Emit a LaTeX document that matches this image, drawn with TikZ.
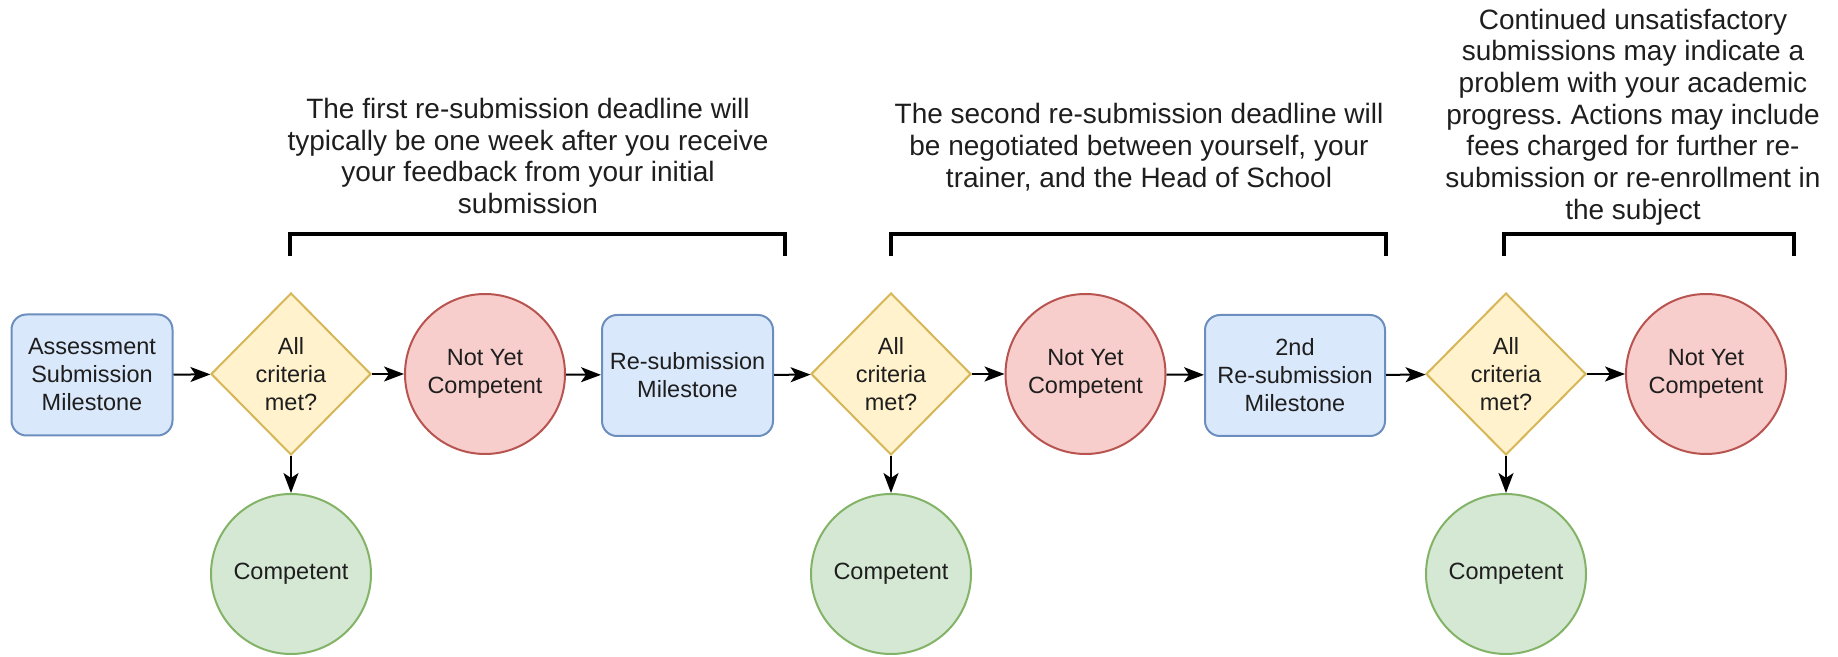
\documentclass[tikz,border=0pt]{standalone}
\usepackage{fontspec}
\setmainfont{Liberation Sans}
\usepackage{xcolor}
\usetikzlibrary{shapes.geometric, arrows.meta}
\frenchspacing

\definecolor{boxfill}{HTML}{DAE8FC}
\definecolor{boxline}{HTML}{6C8EBF}
\definecolor{askfill}{HTML}{FFF2CC}
\definecolor{askline}{HTML}{D6B656}
\definecolor{nycfill}{HTML}{F8CECC}
\definecolor{nycline}{HTML}{B85450}
\definecolor{okfill}{HTML}{D5E8D4}
\definecolor{okline}{HTML}{82B366}
\definecolor{inktext}{HTML}{1E1E1E}

\tikzset{
    boxtext/.style={text=inktext, align=center, font=\fontsize{11.75pt}{14pt}\selectfont},
    milestone/.style={boxtext, draw=boxline, fill=boxfill, line width=1pt,
        rounded corners=7.5pt, minimum height=60.5pt, inner sep=2pt},
    decision/.style={boxtext, diamond, draw=askline, fill=askfill, line width=1pt,
        minimum width=80pt, minimum height=81pt, inner sep=0pt},
    notyet/.style={boxtext, circle, draw=nycline, fill=nycfill, line width=1pt,
        minimum size=80pt, inner sep=0pt},
    competent/.style={boxtext, circle, draw=okline, fill=okfill, line width=1pt,
        minimum size=80pt, inner sep=0pt},
    note/.style={text=inktext, align=center, inner sep=0pt,
        font=\fontsize{14pt}{15.85pt}\selectfont},
    bracket/.style={line width=2pt, black},
    flow/.style={line width=1pt, -{Stealth[length=10pt, width=7.5pt, inset=2.5pt]}}
}

\begin{document}
\begin{tikzpicture}[x=0.5pt, y=-0.5pt]
        \useasboundingbox (0,0) rectangle (1838,657);

        % first attempt
        \node[milestone, minimum width=80.5pt] (submit) at (92,375) {Assessment\\Submission\\Milestone};
        \node[decision] (check1) at (291,374) {All\\criteria\\met?};
        \node[notyet] (nyc1) at (485,374) {Not Yet\\Competent};
        \node[competent] (pass1) at (291,574) {Competent};

        % first re-submission
        \node[milestone, minimum width=85.5pt] (resub1) at (687.5,375.5) {Re-submission\\Milestone};
        \node[decision] (check2) at (891,374) {All\\criteria\\met?};
        \node[notyet] (nyc2) at (1085.5,374) {Not Yet\\Competent};
        \node[competent] (pass2) at (891,574) {Competent};

        % second re-submission
        \node[milestone, minimum width=90pt] (resub2) at (1295,375.5) {2nd\\Re-submission\\Milestone};
        \node[decision] (check3) at (1506,374) {All\\criteria\\met?};
        \node[notyet] (nyc3) at (1706,374) {Not Yet\\Competent};
        \node[competent] (pass3) at (1506,574) {Competent};

        \draw[flow] (submit) -- (check1);
        \draw[flow] (check1) -- (nyc1);
        \draw[flow] (nyc1) -- (resub1);
        \draw[flow] (resub1) -- (check2);
        \draw[flow] (check2) -- (nyc2);
        \draw[flow] (nyc2) -- (resub2);
        \draw[flow] (resub2) -- (check3);
        \draw[flow] (check3) -- (nyc3);
        \draw[flow] (check1) -- (pass1);
        \draw[flow] (check2) -- (pass2);
        \draw[flow] (check3) -- (pass3);

        % deadlines
        \draw[bracket] (290,256) |- (785,234) -- (785,256);
        \draw[bracket] (891,256) |- (1386,234) -- (1386,256);
        \draw[bracket] (1504,256) |- (1794,234) -- (1794,256);

        \node[note] (note1) at (528,156) {The first re-submission deadline will\\typically be one week after you receive\\your feedback from your initial\\submission};
        \node[note] (note2) at (1139,147) {The second re-submission deadline will\\be negotiated between yourself, your\\trainer, and the Head of School};
        \node[note] (note3) at (1633,117) {Continued unsatisfactory\\submissions may indicate a\\problem with your academic\\progress. Actions may include\\fees charged for further re-\\submission or re-enrollment in\\the subject};
    \end{tikzpicture}
\end{document}
